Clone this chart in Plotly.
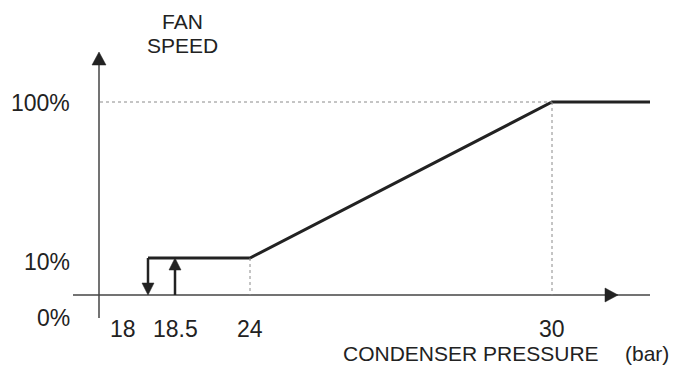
import numpy as np
import plotly.graph_objects as go

# Fan speed curve (condenser pressure in bar, fan speed in %)
curve_pressure = [18, 24, 30, 32]
curve_speed = [10, 10, 100, 100]

# Hysteresis switch points: off at 18 bar, on at 18.5 bar
switch_off_pressure = 18
switch_on_pressure = 18.5
min_speed = 10
max_speed = 100

pressure_ticks = [18, 18.5, 24, 30]
pressure_labels = ["18", "18.5", "24", "30"]
speed_ticks = [0, 10, 100]
speed_labels = ["0%", "10%", "100%"]

# Schematic (non-linear) scales: value -> page position
P_KNOTS = [18, 18.5, 24, 30, 32]
X_KNOTS = [148, 175, 250, 552, 650]
S_KNOTS = [0, 10, 100]
Y_KNOTS = [295, 258, 102]

AXIS_X = 99
AXIS_Y = 295
PAGE_OFFSET = 8  # default body margin of the html page

TEXT = '#222222'
AXIS = '#444444'
DOT = '#8a8a8a'
FONT = "Liberation Sans, Arial, sans-serif"


def sx(p):
    return np.interp(p, P_KNOTS, X_KNOTS)


def sy(s):
    return np.interp(s, S_KNOTS, Y_KNOTS)


def tri(ax, ay, path):
    return dict(type='path', xref='x', yref='y', xsizemode='pixel', ysizemode='pixel',
                xanchor=ax, yanchor=ay, path=path,
                fillcolor='#222222', line=dict(color='#222222', width=0.5))


def label(x, y, text, size, anchor='center', shift=0):
    return dict(x=x, y=y, text=text, xanchor=anchor, yanchor='middle', xshift=shift,
                showarrow=False, font=dict(size=size, color=TEXT, family=FONT))


fig = go.Figure()

fig.add_trace(go.Scatter(
    x=sx(curve_pressure), y=sy(curve_speed), mode='lines',
    line=dict(color='#222222', width=3), hoverinfo='skip', showlegend=False
))

shapes = []
# axes
shapes.append(dict(type='line', xref='x', yref='y', x0=AXIS_X, x1=AXIS_X, y0=62, y1=318,
                   line=dict(color=AXIS, width=1.5)))
shapes.append(dict(type='line', xref='x', yref='y', x0=73, x1=650, y0=AXIS_Y, y1=AXIS_Y,
                   line=dict(color=AXIS, width=1.5)))
shapes.append(tri(AXIS_X, 52, "M0,0 L-7,-13 L7,-13 Z"))
shapes.append(tri(618, AXIS_Y, "M0,0 L-13,7 L-13,-7 Z"))

# dotted guides
x30 = float(sx(30))
x24 = float(sx(24))
y100 = float(sy(max_speed))
y10 = float(sy(min_speed))
dot = dict(color=DOT, width=1, dash='dot')
shapes.append(dict(type='line', xref='x', yref='y', x0=AXIS_X + 1, x1=x30, y0=y100, y1=y100, line=dot))
shapes.append(dict(type='line', xref='x', yref='y', x0=x30, x1=x30, y0=y100, y1=AXIS_Y, line=dot))
shapes.append(dict(type='line', xref='x', yref='y', x0=x24, x1=x24, y0=y10, y1=AXIS_Y, line=dot))

# hysteresis arrows
x_off = float(sx(switch_off_pressure))
x_on = float(sx(switch_on_pressure))
shapes.append(dict(type='line', xref='x', yref='y', x0=x_off, x1=x_off, y0=y10, y1=AXIS_Y - 10,
                   line=dict(color='#222222', width=2.5)))
shapes.append(tri(x_off, AXIS_Y, "M0,0 L-6,12 L6,12 Z"))
shapes.append(dict(type='line', xref='x', yref='y', x0=x_on, x1=x_on, y0=AXIS_Y, y1=y10 + 10,
                   line=dict(color='#222222', width=2.5)))
shapes.append(tri(x_on, y10, "M0,0 L-6,-12 L6,-12 Z"))

annotations = []
# y labels
y_label_pos = {0: 318, 10: 262, 100: 103}
for s, lab in zip(speed_ticks, speed_labels):
    annotations.append(label(72, y_label_pos[s], lab, 23, anchor='right'))
# x labels
for p, lab in zip(pressure_ticks, pressure_labels):
    shift = -25 if p == switch_off_pressure else 0
    annotations.append(label(float(sx(p)), 329, lab, 23, shift=shift))

annotations.append(label(471, 353, "CONDENSER PRESSURE", 21))
annotations.append(label(647, 353, "(bar)", 21))
annotations.append(label(182, 21, "FAN", 21))
annotations.append(label(182, 45, "SPEED", 21))

fig.update_layout(
    width=686, height=365,
    margin=dict(l=0, r=0, t=0, b=0),
    paper_bgcolor='white', plot_bgcolor='white',
    xaxis=dict(range=[PAGE_OFFSET, 686 + PAGE_OFFSET], visible=False, fixedrange=True),
    yaxis=dict(range=[365 + PAGE_OFFSET, PAGE_OFFSET], visible=False, fixedrange=True),
    shapes=shapes, annotations=annotations,
    showlegend=False
)

fig.write_html("out.html")
